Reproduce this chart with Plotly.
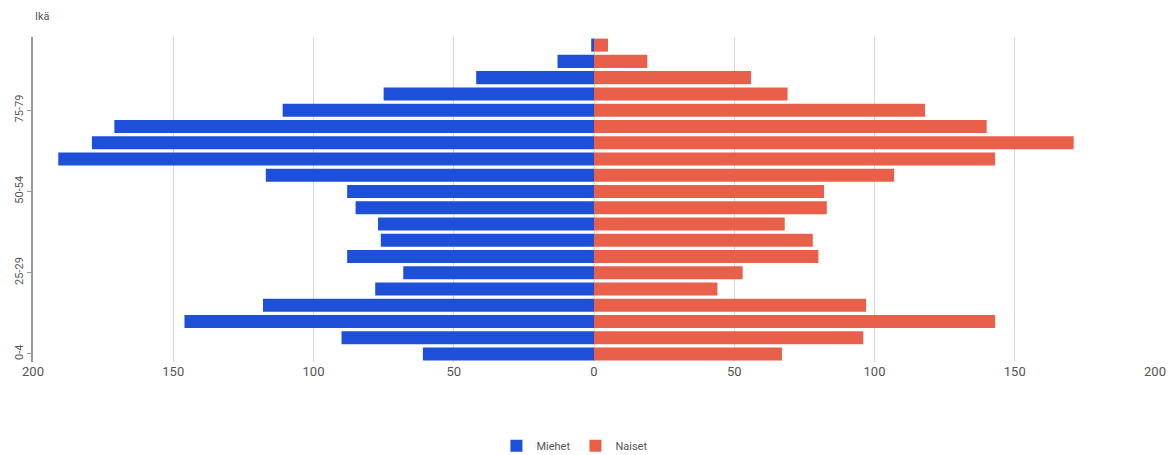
import plotly.graph_objects as go

age_groups = ["0-4", "5-9", "10-14", "15-19", "20-24", "25-29", "30-34", "35-39",
              "40-44", "45-49", "50-54", "55-59", "60-64", "65-69", "70-74",
              "75-79", "80-84", "85-89", "90-94", "95-99"]
# values listed from youngest (bottom) to oldest (top)
men = [61, 90, 146, 118, 78, 68, 88, 76, 77, 85, 88, 117, 191, 179, 171, 111, 75, 42, 13, 1]
women = [67, 96, 143, 97, 44, 53, 80, 78, 68, 83, 82, 107, 143, 171, 140, 118, 69, 56, 19, 5]
shown_labels = ["0-4", "25-29", "50-54", "75-79"]
x_ticks = [-200, -150, -100, -50, 0, 50, 100, 150, 200]
x_ticktext = [str(abs(v)) for v in x_ticks]

fig = go.Figure()
fig.add_trace(go.Bar(
    y=age_groups, x=[-v for v in men], customdata=men, orientation="h",
    name="Miehet", marker=dict(color="#1e4fd8", line=dict(width=0)),
    hovertemplate="%{y}: %{customdata}<extra>Miehet</extra>"))
fig.add_trace(go.Bar(
    y=age_groups, x=women, orientation="h",
    name="Naiset", marker=dict(color="#e8604a", line=dict(width=0)),
    hovertemplate="%{y}: %{x}<extra>Naiset</extra>"))

fig.update_layout(
    width=1173, height=455,
    barmode="relative", bargap=0.2,
    plot_bgcolor="white", paper_bgcolor="white",
    margin=dict(l=33, r=18, t=37, b=93, autoexpand=False),
    font=dict(family="Roboto, Arial, sans-serif", color="#555", size=12),
    xaxis=dict(range=[-200, 200], tickvals=x_ticks, ticktext=x_ticktext,
               showgrid=True, gridcolor="#d9d9d9", gridwidth=1,
               zeroline=False, showline=False, ticks="", automargin=False,
               tickfont=dict(size=13, color="#555")),
    yaxis=dict(categoryorder="array", categoryarray=age_groups,
               tickmode="array", tickvals=shown_labels, ticktext=shown_labels,
               tickangle=-90, showline=True, linecolor="#999", linewidth=1.5,
               ticks="outside", ticklen=4, tickcolor="#999", automargin=False,
               showgrid=False, tickfont=dict(size=11, color="#555")),
    legend=dict(orientation="h", x=0.483, xanchor="center", y=-0.258, yanchor="middle",
                font=dict(size=11, color="#555")),
    annotations=[dict(text="Ikä", xref="paper", yref="paper", x=0.0, y=1.0,
                      xanchor="left", yanchor="bottom", yshift=12, xshift=0,
                      showarrow=False, font=dict(size=11, color="#555"))],
)

fig.write_html("out.html", config={"displayModeBar": False},
               post_script="document.body.style.margin='0';")
